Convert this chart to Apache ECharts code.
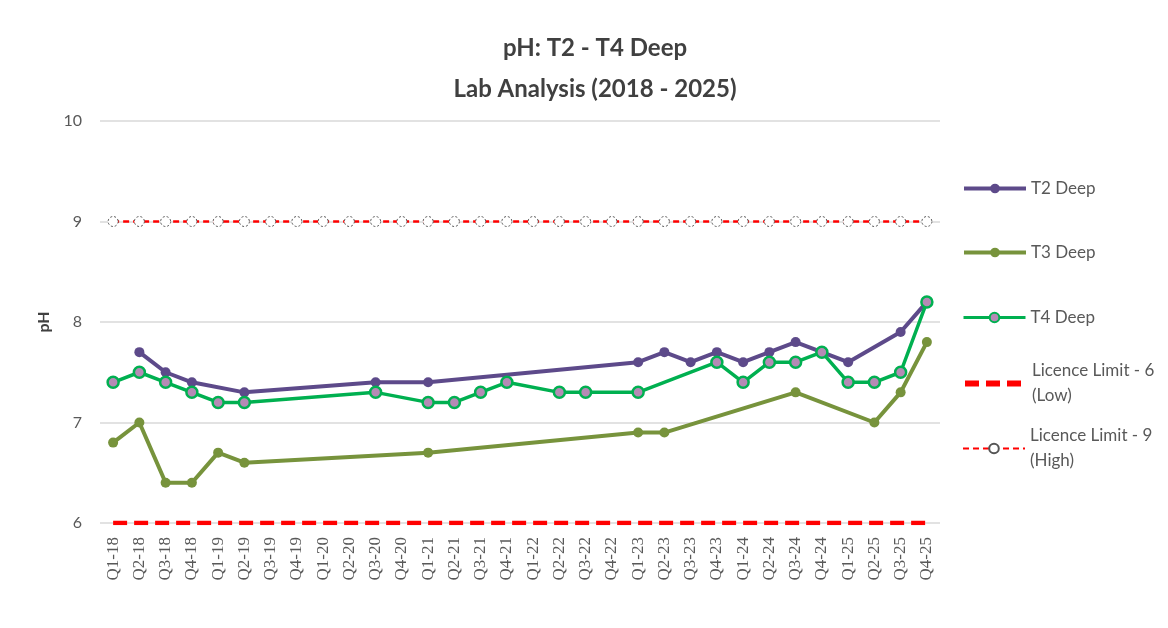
<!DOCTYPE html>
<html>
<head>
<meta charset="utf-8">
<script src="https://cdn.jsdelivr.net/npm/echarts@6/dist/echarts.min.js"></script>
<style>
  html, body { margin: 0; padding: 0; background: #fff; }
  #chart { width: 1168px; height: 628px; }
</style>
</head>
<body>
<div id="chart"></div>
<script>
// quarters Q1-18 .. Q4-25
const quarters = ['Q1-18', 'Q2-18', 'Q3-18', 'Q4-18', 'Q1-19', 'Q2-19', 'Q3-19', 'Q4-19',
  'Q1-20', 'Q2-20', 'Q3-20', 'Q4-20', 'Q1-21', 'Q2-21', 'Q3-21', 'Q4-21',
  'Q1-22', 'Q2-22', 'Q3-22', 'Q4-22', 'Q1-23', 'Q2-23', 'Q3-23', 'Q4-23',
  'Q1-24', 'Q2-24', 'Q3-24', 'Q4-24', 'Q1-25', 'Q2-25', 'Q3-25', 'Q4-25']

const t2Deep = [null, 7.7, 7.5, 7.4, null, 7.3, null, null,
  null, null, 7.4, null, 7.4, null, null, null,
  null, null, null, null, 7.6, 7.7, 7.6, 7.7,
  7.6, 7.7, 7.8, 7.7, 7.6, null, 7.9, 8.2]

const t3Deep = [6.8, 7.0, 6.4, 6.4, 6.7, 6.6, null, null,
  null, null, null, null, 6.7, null, null, null,
  null, null, null, null, 6.9, 6.9, null, null,
  null, null, 7.3, null, null, 7.0, 7.3, 7.8]

const t4Deep = [7.4, 7.5, 7.4, 7.3, 7.2, 7.2, null, null,
  null, null, 7.3, null, 7.2, 7.2, 7.3, 7.4,
  null, 7.3, 7.3, null, 7.3, null, null, 7.6,
  7.4, 7.6, 7.6, 7.7, 7.4, 7.4, 7.5, 8.2]

const limitLow = quarters.map(() => 6)
const limitHigh = quarters.map(() => 9)

const yTicks = { min: 6, max: 10, interval: 1 }

const FONT = 'Lato, "Open Sans", sans-serif'

const legendLabels = {
  'Licence Limit - 6 (Low)': 'Licence Limit - 6\n(Low)',
  'Licence Limit - 9 (High)': 'Licence Limit - 9\n(High)'
}

// one legend per entry so each can sit where the original has it
function legendAt (item, centerY, twoLines) {
  return {
    data: [item],
    orient: 'vertical',
    left: 957,
    top: twoLines ? centerY - 37 : centerY - 12,
    itemWidth: 62,
    itemHeight: 12,
    selectedMode: false,
    formatter: (n) => legendLabels[n] || n,
    textStyle: {
      fontFamily: FONT,
      fontSize: 17,
      color: '#595959',
      lineHeight: 25,
      padding: twoLines ? [25, 0, 0, 0] : 0
    }
  }
}

const option = {
  backgroundColor: '#fff',
  animation: false,
  title: {
    text: 'pH: T2 - T4 Deep\nLab Analysis (2018 - 2025)',
    left: 590,
    top: 23,
    textAlign: 'center',
    textStyle: {
      fontFamily: FONT,
      fontSize: 24,
      fontWeight: 'bold',
      color: '#404040',
      lineHeight: 41
    }
  },
  legend: [
    legendAt({ name: 'T2 Deep', lineStyle: { width: 4 } }, 183, false),
    legendAt({ name: 'T3 Deep', lineStyle: { width: 4 } }, 247, false),
    legendAt({ name: 'T4 Deep', lineStyle: { width: 3 } }, 312, false),
    legendAt({ name: 'Licence Limit - 6 (Low)', itemStyle: { opacity: 0 }, lineStyle: { width: 6, type: [14, 7] } }, 378, true),
    legendAt({ name: 'Licence Limit - 9 (High)', lineStyle: { width: 2, type: [6, 4] } }, 443, true)
  ],
  grid: {
    left: 100,
    right: 228,
    top: 121,
    bottom: 105
  },
  xAxis: {
    type: 'category',
    data: quarters,
    boundaryGap: true,
    axisLine: { show: false },
    axisTick: { show: false },
    axisLabel: {
      rotate: 90,
      interval: 0,
      margin: 14,
      fontFamily: '"Liberation Serif", serif',
      fontSize: 17,
      color: '#595959'
    }
  },
  yAxis: {
    type: 'value',
    min: yTicks.min,
    max: yTicks.max,
    interval: yTicks.interval,
    name: 'pH',
    nameLocation: 'middle',
    nameRotate: 90,
    nameGap: 48,
    nameTextStyle: {
      fontFamily: FONT,
      fontSize: 16,
      fontWeight: 'bold',
      color: '#404040'
    },
    axisLine: { show: false },
    axisTick: { show: false },
    axisLabel: {
      margin: 18,
      fontFamily: FONT,
      fontSize: 16,
      color: '#595959'
    },
    splitLine: {
      lineStyle: { color: '#d9d9d9', width: 1.5 }
    }
  },
  series: [
    {
      name: 'T2 Deep',
      type: 'line',
      data: t2Deep,
      connectNulls: true,
      symbol: 'circle',
      symbolSize: 10,
      lineStyle: { color: '#5d4a8a', width: 4 },
      itemStyle: { color: '#5d4a8a' },
      z: 4
    },
    {
      name: 'T3 Deep',
      type: 'line',
      data: t3Deep,
      connectNulls: true,
      symbol: 'circle',
      symbolSize: 10,
      lineStyle: { color: '#77933c', width: 4 },
      itemStyle: { color: '#77933c' },
      z: 3
    },
    {
      name: 'T4 Deep',
      type: 'line',
      data: t4Deep,
      connectNulls: true,
      symbol: 'circle',
      symbolSize: 11,
      lineStyle: { color: '#00b050', width: 3.5 },
      itemStyle: { color: '#b58ab5', borderColor: '#00b050', borderWidth: 2.5 },
      z: 5
    },
    {
      name: 'Licence Limit - 6 (Low)',
      type: 'line',
      data: limitLow,
      symbol: 'none',
      lineStyle: { color: '#ff0000', width: 4.5, type: [14, 7] },
      itemStyle: { color: '#ff0000' },
      z: 2
    },
    {
      name: 'Licence Limit - 9 (High)',
      type: 'line',
      data: limitHigh,
      symbol: 'circle',
      symbolSize: 10,
      lineStyle: { color: '#ff0000', width: 2.5, type: [6, 4] },
      itemStyle: { color: '#ffffff', borderColor: '#555555', borderWidth: 1, borderType: [2, 2] },
      z: 2
    }
  ]
}

const myChart = echarts.init(document.getElementById('chart'))
myChart.setOption(option, true)
</script>
</body>
</html>
